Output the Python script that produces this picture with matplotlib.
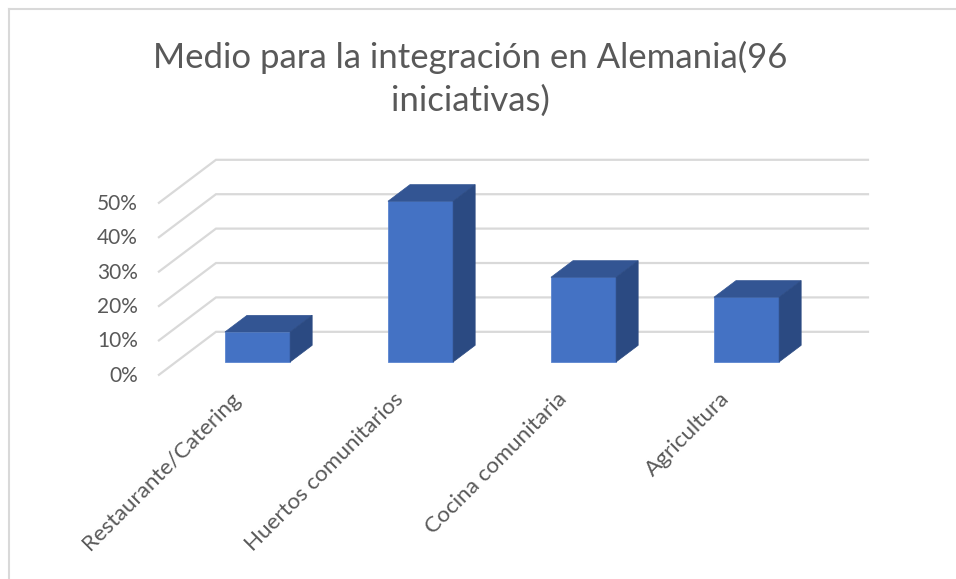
import numpy as np
import matplotlib.pyplot as plt
from matplotlib.patches import Polygon
from matplotlib.transforms import offset_copy

plt.rcParams['font.family'] = ['Lato', 'DejaVu Sans']

categories = ['Restaurante/Catering', 'Huertos comunitarios', 'Cocina comunitaria', 'Agricultura']
values = [0.087, 0.467, 0.246, 0.188]
y_ticks = [0.0, 0.1, 0.2, 0.3, 0.4, 0.5]
y_tick_labels = ['0%', '10%', '20%', '30%', '40%', '50%']
title = 'Medio para la integración en Alemania(96\niniciativas)'

# fake 3d: oblique projection, depth shifts right and up
DX, DY = 0.35, 0.125
D_FRONT, D_BACK = -0.3, 0.7
BAR_W, BAR_D = 0.4, 0.386

front_c = '#4472C4'
top_c = '#335593'
side_c = '#2B4A82'
grid_c = '#D9D9D9'
text_c = '#595959'


def proj(x, v, d):
    return (x + d * DX, v + d * DY)


fig = plt.figure(figsize=(9.56, 5.79), dpi=100)
ax = fig.add_axes([0, 0, 1, 1])
ax.set_xlim(-1.58, 4.285)
ax.set_ylim(-0.631, 1.052)
ax.axis('off')

x = np.arange(len(categories))
x_lo, x_hi = -0.5, len(categories) - 0.5

# gridlines on side wall and back wall
for v in y_ticks:
    p0 = proj(x_lo, v, D_FRONT)
    p1 = proj(x_lo, v, D_BACK)
    p2 = proj(x_hi, v, D_BACK)
    ax.plot([p0[0], p1[0], p2[0]], [p0[1], p1[1], p2[1]], color=grid_c, lw=1.6,
            solid_joinstyle='miter', zorder=1)

# bars: front face + top + right side
ax.bar(x, values, width=BAR_W, color=front_c, edgecolor='#5B85D0', lw=0.6, zorder=3)
for xi, v in zip(x, values):
    l, r = xi - BAR_W / 2, xi + BAR_W / 2
    top = [proj(l, v, 0), proj(r, v, 0), proj(r, v, BAR_D), proj(l, v, BAR_D)]
    side = [proj(r, 0, 0), proj(r, v, 0), proj(r, v, BAR_D), proj(r, 0, BAR_D)]
    ax.add_patch(Polygon(top, closed=True, fc=top_c, ec=top_c, lw=0.5, zorder=3))
    ax.add_patch(Polygon(side, closed=True, fc=side_c, ec=side_c, lw=0.5, zorder=3))

# y tick labels on the front edge
tr_y = offset_copy(ax.transData, fig=fig, x=-21, y=-1, units='dots')
for v, lab in zip(y_ticks, y_tick_labels):
    px, py = proj(x_lo, v, D_FRONT)
    ax.text(px, py, lab, transform=tr_y, ha='right', va='center',
            fontsize=15, color=text_c)

# category labels
tr_x = offset_copy(ax.transData, fig=fig, x=-10, y=-14, units='dots')
for xi, lab in zip(x, categories):
    px, py = proj(xi, 0, D_FRONT)
    ax.text(px, py, lab, transform=tr_x, ha='right', va='top', rotation=45,
            rotation_mode='anchor', fontsize=16.2, color=text_c)

fig.text(0.4916, 0.8636, title, ha='center', va='center', fontsize=25,
         color=text_c, linespacing=1.42)

# chart frame (left and top edges visible)
fig.add_artist(plt.Line2D([0.0094, 0.0094], [0, 0.9836], color='#D9D9D9', lw=1.5))
fig.add_artist(plt.Line2D([0.0094, 1.0], [0.9836, 0.9836], color='#D9D9D9', lw=1.5))

fig.savefig('out.png', dpi=100)
